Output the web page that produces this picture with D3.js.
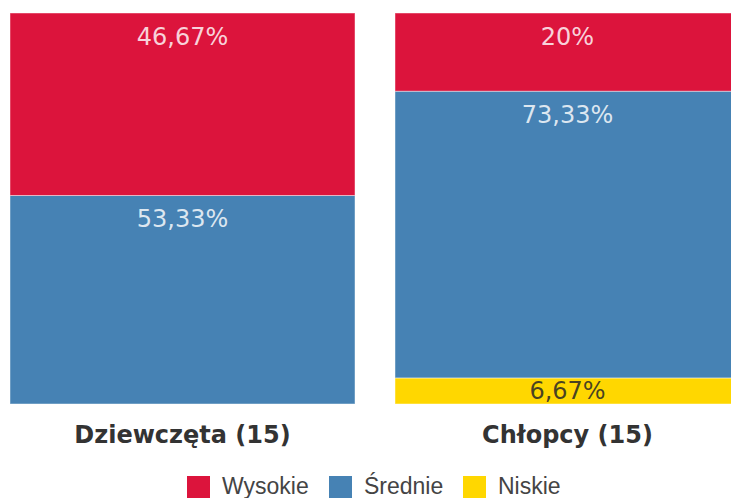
<!DOCTYPE html>
<html>
<head>
<meta charset="utf-8">
<script src="https://cdn.jsdelivr.net/npm/d3@7"></script>
<style>
  body { margin: 0; background: #fff; overflow: hidden; }
  svg { display: block; }
</style>
</head>
<body>
<svg id="chart"></svg>
<script>
const categories = ["Dziewczęta (15)", "Chłopcy (15)"];
const seriesNames = ["Wysokie", "Średnie", "Niskie"];
const wysokie = [46.67, 20];
const srednie = [53.33, 73.33];
const niskie = [0, 6.67];
const colors = ["#dc143c", "#4682b4", "#ffd700"];

const drawGraph = (selector) => {
  const width = 731;
  const height = 498;
  const svg = d3.select(selector).attr("width", width).attr("height", height);

  const rows = categories.map((c, i) => ({
    cat: c,
    Wysokie: wysokie[i],
    "Średnie": srednie[i],
    Niskie: niskie[i]
  }));

  // stos od góry: Wysokie na górze, Niskie na dole
  const stack = d3.stack().keys(seriesNames.slice().reverse());
  const layers = stack(rows);

  const xScale = d3
    .scaleBand()
    .domain(categories)
    .range([10, 740])
    .paddingInner(40 / 385);

  const yScale = d3.scaleLinear().domain([0, 100]).range([404, 13]);

  const color = d3.scaleOrdinal().domain(seriesNames).range(colors);

  const groups = svg
    .selectAll("g.layer")
    .data(layers)
    .enter()
    .append("g")
    .attr("class", "layer");

  groups
    .selectAll("rect")
    .data((l) => l.map((d) => ({ key: l.key, d })))
    .enter()
    .filter((o) => o.d[1] - o.d[0] > 0)
    .append("rect")
    .attr("x", (o) => xScale(o.d.data.cat))
    .attr("width", xScale.bandwidth())
    .attr("y", (o) => yScale(o.d[1]))
    .attr("height", (o) => yScale(o.d[0]) - yScale(o.d[1]))
    .attr("fill", (o) => color(o.key))
    .attr("stroke", "rgba(255,255,255,0.45)")
    .attr("stroke-width", 1);

  // etykiety wartości
  groups
    .selectAll("text")
    .data((l) => l.map((d) => ({ key: l.key, d })))
    .enter()
    .filter((o) => o.d[1] - o.d[0] > 0)
    .append("text")
    .attr("x", (o) => xScale(o.d.data.cat) + xScale.bandwidth() / 2)
    .attr("y", (o) => {
      const top = yScale(o.d[1]);
      const bottom = yScale(o.d[0]);
      return Math.min(top + 32, (top + bottom) / 2 + 8.5);
    })
    .attr("text-anchor", "middle")
    .style("font-family", "'DejaVu Sans', Verdana, sans-serif")
    .style("font-size", "24px")
    .attr("fill", (o) => (o.key === "Niskie" ? "rgba(40,40,40,0.85)" : "rgba(255,255,255,0.82)"))
    .text((o) => String(+(o.d[1] - o.d[0]).toFixed(2)).replace(".", ",") + "%");

  // etykiety kategorii
  const xAxis = d3.axisBottom(xScale).tickSize(0).tickPadding(0);
  const axisG = svg
    .append("g")
    .attr("transform", "translate(0, 404)")
    .call(xAxis);
  axisG.select(".domain").remove();
  axisG
    .selectAll("text")
    .attr("dy", null)
    .attr("y", 39)
    .style("font-family", "'DejaVu Sans', Verdana, sans-serif")
    .style("font-weight", "bold")
    .style("font-size", "24px")
    .attr("fill", "#333");

  // legenda
  const legendX = [187, 329, 463];
  const legend = svg
    .selectAll("g.legend")
    .data(seriesNames)
    .enter()
    .append("g")
    .attr("class", "legend")
    .attr("transform", (d, i) => `translate(${legendX[i]}, 476)`);

  legend
    .append("rect")
    .attr("width", 23)
    .attr("height", 23)
    .attr("fill", (d) => color(d));

  legend
    .append("text")
    .attr("x", 35)
    .attr("y", 18)
    .style("font-family", "'Liberation Sans', Arial, sans-serif")
    .style("font-size", "23px")
    .attr("fill", "#444")
    .text((d) => d);
};

drawGraph("#chart");
</script>
</body>
</html>
